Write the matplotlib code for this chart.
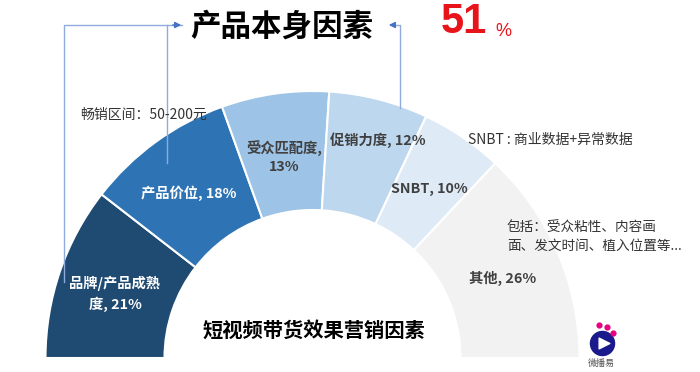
import matplotlib
matplotlib.use("Agg")
import matplotlib.pyplot as plt

plt.rcParams['font.family'] = ['Noto Sans CJK SC', 'DejaVu Sans']

# data
labels = ["品牌/产品成熟\n度, 21%", "产品价位, 18%", "受众匹配度,\n13%", "促销力度, 12%", "SNBT, 10%", "其他, 26%"]
values = [21, 18, 13, 12, 10, 26]
colors = ["#1F4A72", "#2E74B5", "#9DC3E6", "#BDD7EE", "#DEEBF7", "#F2F2F2"]
label_colors = ["white", "white", "#404040", "#404040", "#404040", "#404040"]
# label positions in pixels (x, y from top)
label_pos = [(115, 294), (189, 193), (284, 157), (378, 140), (429, 189), (503, 278)]

W, H = 700, 372
fig = plt.figure(figsize=(7, 3.72), dpi=100)
ax = fig.add_axes([0, 0, 1, 1])
ax.set_xlim(0, W)
ax.set_ylim(0, H)
ax.set_aspect("equal")
ax.axis("off")

cx, cy = 312.5, H - 358
r_out, r_in = 267, 148

# half donut: pad with an invisible half so the total spans 180 degrees
wedges, _ = ax.pie(values + [sum(values)], colors=colors + ["none"], startangle=180,
                   counterclock=False, radius=r_out, center=(cx, cy),
                   wedgeprops=dict(width=r_out - r_in, edgecolor="white", linewidth=1.5))
wedges[-1].set_visible(False)
ax.set_xlim(0, W)
ax.set_ylim(0, H)

for lab, (x, y), c in zip(labels, label_pos, label_colors):
    ax.text(x, H - y, lab, ha="center", va="center", fontsize=10.3, fontweight="bold",
            color=c, linespacing=1.45)

# titles
ax.text(282, H - 27, "产品本身因素", ha="center", va="center", fontsize=22, fontweight="bold", color="black")
ax.text(441, H - 22, "51", ha="left", va="center", fontsize=30, fontweight="bold", color="#E8141B",
        family=["Liberation Sans", "DejaVu Sans"])
ax.text(495, H - 32, "%", ha="left", va="center", fontsize=13, color="#E8141B",
        family=["Liberation Sans", "DejaVu Sans"])
ax.text(314, H - 330, "短视频带货效果营销因素", ha="center", va="center", fontsize=14.6,
        fontweight="bold", color="black")

# annotations
ax.text(80, H - 115, "畅销区间：50-200元", ha="left", va="center", fontsize=10, color="#333333")
ax.text(468, H - 140, "SNBT : 商业数据+异常数据", ha="left", va="center", fontsize=10, color="#333333")
ax.text(507, H - 237, "包括：受众粘性、内容画\n面、发文时间、植入位置等...", ha="left", va="center",
        fontsize=9.8, color="#333333", linespacing=1.3)

# bracket lines
lc = "#8FAADC"
ax.plot([64, 64, 182], [H - 282, H - 25, H - 25], color=lc, lw=1)
ax.plot([167, 167], [H - 163, H - 25], color=lc, lw=1)
ax.annotate("", xy=(184, H - 25), xytext=(170, H - 25),
            arrowprops=dict(arrowstyle="-|>", color="#4472C4", lw=1, mutation_scale=9))
ax.plot([400, 400, 392], [H - 108, H - 25, H - 25], color=lc, lw=1)
ax.annotate("", xy=(386, H - 25), xytext=(398, H - 25),
            arrowprops=dict(arrowstyle="-|>", color="#4472C4", lw=1, mutation_scale=9))

# logo
ax.scatter([602], [H - 343], s=300, color="#1A1A8C", zorder=5)
ax.scatter([604], [H - 343], s=60, marker=">", color="white", zorder=6)
ax.scatter([599, 607, 613], [H - 325, H - 327, H - 333], s=12, color="#E6007E", zorder=5)
ax.text(601, H - 363, "微播易", ha="center", va="center", fontsize=6.5, color="#555555")

fig.savefig("out.png", dpi=100)
